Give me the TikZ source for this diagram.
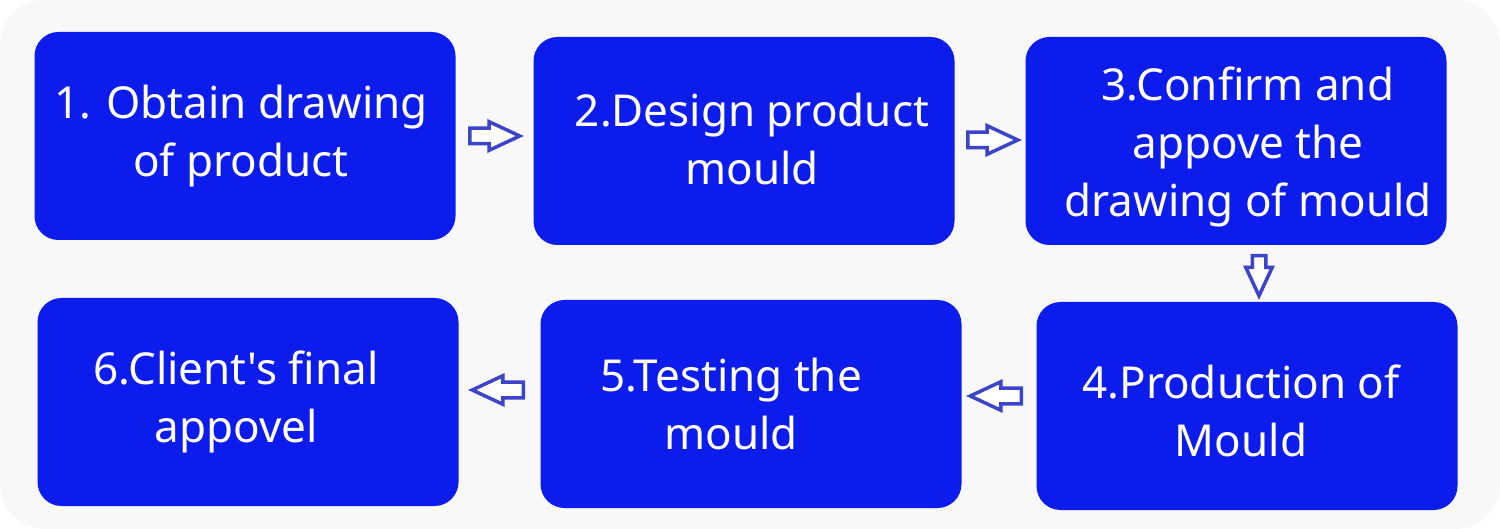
\documentclass[tikz,border=0pt]{standalone}
\usepackage{fontspec}
\newfontfamily\stepfont{Noto Sans}
\usetikzlibrary{shapes.arrows}
\definecolor{boxblue}{RGB}{12,28,236}
\definecolor{arrowblue}{RGB}{60,68,200}
\definecolor{bggray}{RGB}{248,248,248}
\tikzset{
  stepbox/.style={fill=boxblue, rounded corners=24pt, draw=none, inner sep=0pt, minimum width=421pt, minimum height=208pt},
  steptext/.style={text=white, align=center, font=\stepfont\fontsize{44}{58}\selectfont, inner sep=0pt},
  blockarrow/.style={single arrow, draw=arrowblue, line width=3.5pt, fill=white, inner sep=0pt, minimum width=26pt, single arrow head extend=6.5pt, single arrow tip angle=50, anchor=tail},
}
\begin{document}
\begin{tikzpicture}[x=1pt,y=-1pt]
\useasboundingbox (0,0) rectangle (1500,529);
\fill[white] (0,0) rectangle (1500,529);
\fill[bggray, rounded corners=45pt] (0,0) rectangle (1500,529);
% boxes
\node[stepbox] (b1) at (245,136) {};
\node[stepbox] (b2) at (744,141) {};
\node[stepbox] (b3) at (1236,141) {};
\node[stepbox] (b4) at (1247,406) {};
\node[stepbox] (b5) at (751,404) {};
\node[stepbox] (b6) at (248,402) {};
% texts
\node[steptext] (t1) at (241,136) {1. Obtain drawing\\of product};
\node[steptext] (t2) at (752,139) {2.Design product\\mould};
\node[steptext] (t3) at (1248,147) {3.Confirm and\\appove the\\drawing of mould};
\node[steptext] (t4) at (1241,411) {4.Production of\\Mould};
\node[steptext] (t5) at (731,404) {5.Testing the\\mould};
\node[steptext] (t6) at (236,402) {6.Client's final\\appovel};
% arrows
\node[blockarrow, minimum height=50pt, shape border rotate=0, inner ysep=6pt] (a1) at (468,136) {};
\node[blockarrow, minimum height=50pt, shape border rotate=0, inner ysep=6pt] (a2) at (966,140) {};
\node[blockarrow, minimum height=40pt, shape border rotate=270, inner xsep=5pt] (a3) at (1259,254) {};
\node[blockarrow, minimum height=51pt, shape border rotate=180, inner ysep=6pt] (a4) at (1023,396) {};
\node[blockarrow, minimum height=51pt, shape border rotate=180, inner ysep=6pt] (a5) at (525,390) {};
\end{tikzpicture}
\end{document}
